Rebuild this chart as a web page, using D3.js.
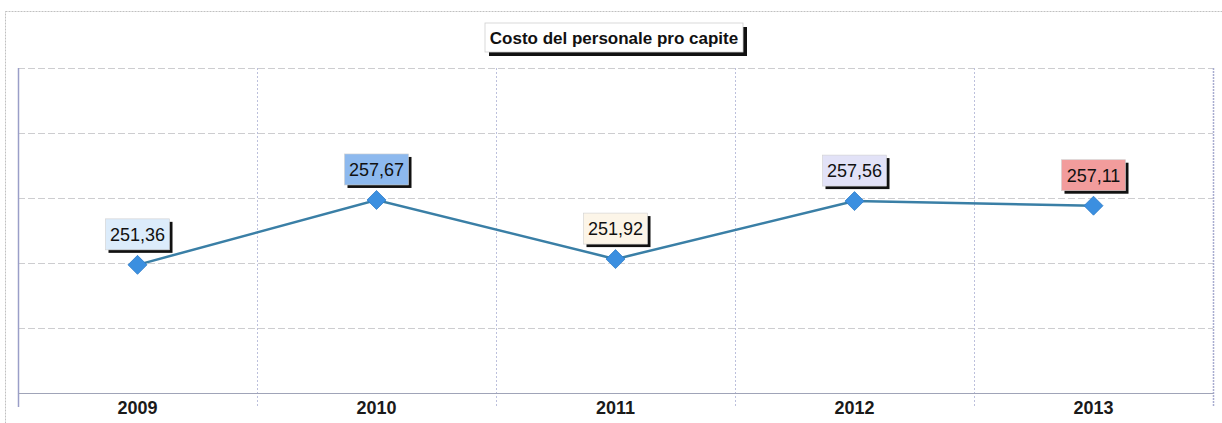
<!DOCTYPE html>
<html>
<head>
<meta charset="utf-8">
<script src="https://cdn.jsdelivr.net/npm/d3@7"></script>
<style>
  html, body { margin: 0; padding: 0; background: #ffffff; }
  svg { display: block; }
</style>
</head>
<body>
<svg id="chart" width="1222" height="423"></svg>
<script>
const title = "Costo del personale pro capite";
const years = ["2009", "2010", "2011", "2012", "2013"];
const values = [251.36, 257.67, 251.92, 257.56, 257.11];
const valueLabels = ["251,36", "257,67", "251,92", "257,56", "257,11"];
const labelFills = ["#dcecfb", "#8db9ee", "#fcf5e8", "#e2e2f7", "#f29c9c"];
const yDomain = [238.9, 270.5];
const gridDivisions = 5;

const svg = d3.select("#chart");
const W = 1222, H = 423;
const plot = { left: 18, top: 68, right: 1213, bottom: 393 };

// outer frame
svg.append("rect")
  .attr("x", 5.5).attr("y", 11.5).attr("width", W + 10).attr("height", H)
  .attr("fill", "none").attr("stroke", "#c0c0c0").attr("stroke-dasharray", "2,1");

const x = d3.scaleBand().domain(years).range([plot.left, plot.right]).paddingInner(0).paddingOuter(0);
const y = d3.scaleLinear().domain(yDomain).range([plot.bottom, plot.top]);

const gridVals = d3.range(1, gridDivisions).map(i => yDomain[0] + (yDomain[1] - yDomain[0]) * i / gridDivisions);

// plot background
svg.append("rect")
  .attr("x", plot.left).attr("y", plot.top)
  .attr("width", plot.right - plot.left).attr("height", plot.bottom - plot.top)
  .attr("fill", "#ffffff");

// horizontal gridlines
svg.append("g").selectAll("line").data(gridVals.concat([yDomain[1]])).join("line")
  .attr("x1", plot.left).attr("x2", plot.right)
  .attr("y1", d => Math.round(y(d)) + 0.5).attr("y2", d => Math.round(y(d)) + 0.5)
  .attr("stroke", "#cdcdd0").attr("stroke-width", 1).attr("stroke-dasharray", "7,3");

// vertical gridlines (category boundaries)
const bounds = years.slice(1).map(d => x(d));
svg.append("g").selectAll("line").data(bounds).join("line")
  .attr("x1", d => Math.round(d) + 0.5).attr("x2", d => Math.round(d) + 0.5)
  .attr("y1", plot.top).attr("y2", plot.bottom + 14)
  .attr("stroke", "#bcc0dc").attr("stroke-width", 1).attr("stroke-dasharray", "2,2");

// right border
svg.append("line")
  .attr("x1", plot.right + 0.5).attr("x2", plot.right + 0.5)
  .attr("y1", plot.top).attr("y2", plot.bottom + 14)
  .attr("stroke", "#a8acd0").attr("stroke-width", 1.5).attr("stroke-dasharray", "2,1");

// left axis line
svg.append("line")
  .attr("x1", plot.left + 0.5).attr("x2", plot.left + 0.5)
  .attr("y1", plot.top).attr("y2", plot.bottom + 14)
  .attr("stroke", "#9a9ec8").attr("stroke-width", 1.5);

// bottom axis
const xAxis = d3.axisBottom(x).tickSize(0).tickPadding(8);
const gx = svg.append("g").attr("transform", `translate(0,${plot.bottom})`).call(xAxis);
gx.select(".domain").attr("stroke", "#a0a4b8").attr("stroke-width", 1);
gx.selectAll("text")
  .attr("font-family", "Liberation Sans, Arial, sans-serif")
  .attr("font-size", 18).attr("font-weight", "bold").attr("fill", "#1a1a1a");

// line
const cx = d => x(d) + x.bandwidth() / 2;
const line = d3.line().x((d, i) => cx(years[i])).y(d => y(d));
svg.append("path").datum(values)
  .attr("d", line).attr("fill", "none")
  .attr("stroke", "#3a7fa6").attr("stroke-width", 2.5);

// diamond markers
svg.append("g").selectAll("path").data(values).join("path")
  .attr("transform", (d, i) => `translate(${cx(years[i])},${y(d)})`)
  .attr("d", d3.symbol(d3.symbolDiamond2, 230)())
  .attr("fill", "#3b8fe0").attr("stroke", "#2f7cc8").attr("stroke-width", 0.8);

// value labels
const labW = 64, labH = 31;
const lg = svg.append("g").selectAll("g").data(values).join("g")
  .attr("transform", (d, i) => `translate(${cx(years[i])},${y(d) - 15})`);
lg.append("rect")
  .attr("x", -labW / 2 + 3).attr("y", -labH + 3).attr("width", labW).attr("height", labH)
  .attr("fill", "#111");
lg.append("rect")
  .attr("x", -labW / 2).attr("y", -labH).attr("width", labW).attr("height", labH)
  .attr("fill", (d, i) => labelFills[i]).attr("stroke", "#d0d0d0").attr("stroke-width", 0.6);
lg.append("text")
  .attr("x", 0).attr("y", -labH / 2 + 6.5)
  .attr("text-anchor", "middle")
  .attr("font-family", "Liberation Sans, Arial, sans-serif")
  .attr("font-size", 18).attr("fill", "#111")
  .text((d, i) => valueLabels[i]);

// title box
const tb = { x: 485, y: 23, w: 258, h: 29 };
svg.append("rect").attr("x", tb.x + 4).attr("y", tb.y + 4).attr("width", tb.w).attr("height", tb.h).attr("fill", "#111");
svg.append("rect").attr("x", tb.x).attr("y", tb.y).attr("width", tb.w).attr("height", tb.h)
  .attr("fill", "#ffffff").attr("stroke", "#cfcfcf").attr("stroke-width", 0.8);
svg.append("text")
  .attr("x", tb.x + tb.w / 2).attr("y", tb.y + tb.h / 2 + 6)
  .attr("text-anchor", "middle")
  .attr("font-family", "Liberation Sans, Arial, sans-serif")
  .attr("font-size", 17).attr("font-weight", "bold").attr("fill", "#111")
  .text(title);
</script>
</body>
</html>
